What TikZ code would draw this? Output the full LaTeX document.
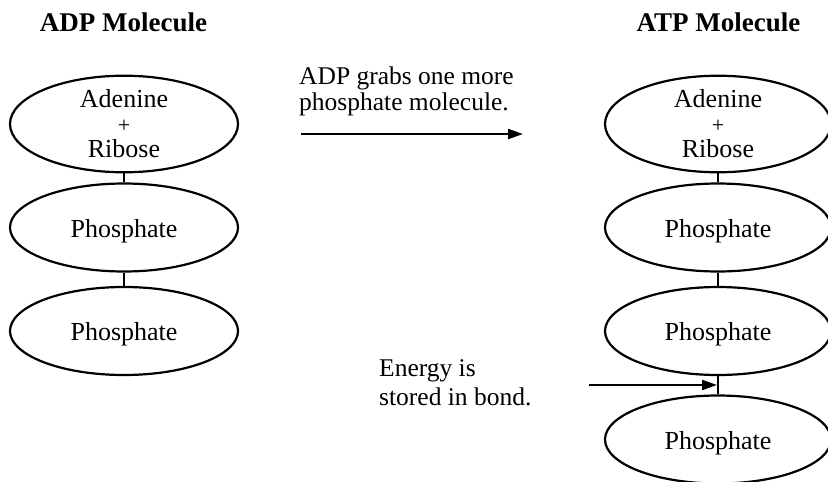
\documentclass[tikz,border=0pt]{standalone}
\usepackage{fontspec}
\setmainfont{Liberation Serif}
\usetikzlibrary{arrows.meta,shapes.geometric}
\begin{document}
\begin{tikzpicture}[x=1pt,y=-1pt,
  mol/.style={draw,line width=2.2pt,ellipse,inner sep=0pt,minimum width=228pt,minimum height=88pt,
    font=\fontsize{26}{25}\selectfont,align=center},
  phos/.style={mol,text height=19pt,text depth=0pt},
  bond/.style={line width=2.2pt},
  title/.style={font=\fontsize{27}{30}\selectfont\bfseries,anchor=base},
  caption/.style={font=\fontsize{25.5}{28}\selectfont,anchor=base west,inner sep=0pt},
  arr/.style={line width=2.2pt,-{Triangle[length=15pt,width=10pt]}}]
\useasboundingbox (0,0) rectangle (828,482);

% titles
\node[title] (tadp) at (123.5,31) {ADP Molecule};
\node[title] (tatp) at (718.5,31) {ATP Molecule};

% ADP column
\node[mol]  (l1) at (124,124) {Adenine\\{\fontsize{22}{25}\selectfont +}\\Ribose};
\node[phos] (l2) at (124,227.5) {Phosphate};
\node[phos] (l3) at (124,331) {Phosphate};
\draw[bond] (l1) -- (l2);
\draw[bond] (l2) -- (l3);

% ATP column
\node[mol,minimum width=226pt]  (r1) at (718,124) {Adenine\\{\fontsize{22}{25}\selectfont +}\\Ribose};
\node[phos,minimum width=226pt] (r2) at (718,227.5) {Phosphate};
\node[phos,minimum width=226pt] (r3) at (718,331) {Phosphate};
\node[phos,minimum width=226pt] (r4) at (718,439.5) {Phosphate};
\draw[bond] (r1) -- (r2);
\draw[bond] (r2) -- (r3);
\draw[bond] (r3) -- coordinate[pos=0.5] (bondmid) (r4);

% top caption and arrow
\node[caption] (c1a) at (299,84.5) {ADP grabs one more};
\node[caption] (c1b) at (299,110.5) {phosphate molecule.};
\coordinate (a1s) at (301,134);
\coordinate (a1e) at (523,134);
\draw[arr] (a1s) -- (a1e);

% energy caption and arrow
\node[caption] (c2a) at (379,376) {Energy is};
\node[caption] (c2b) at (379,405) {stored in bond.};
\coordinate (a2s) at (589,385);
\draw[arr,shorten >=1pt] (a2s) -- (a2s -| bondmid);
\end{tikzpicture}
\end{document}
